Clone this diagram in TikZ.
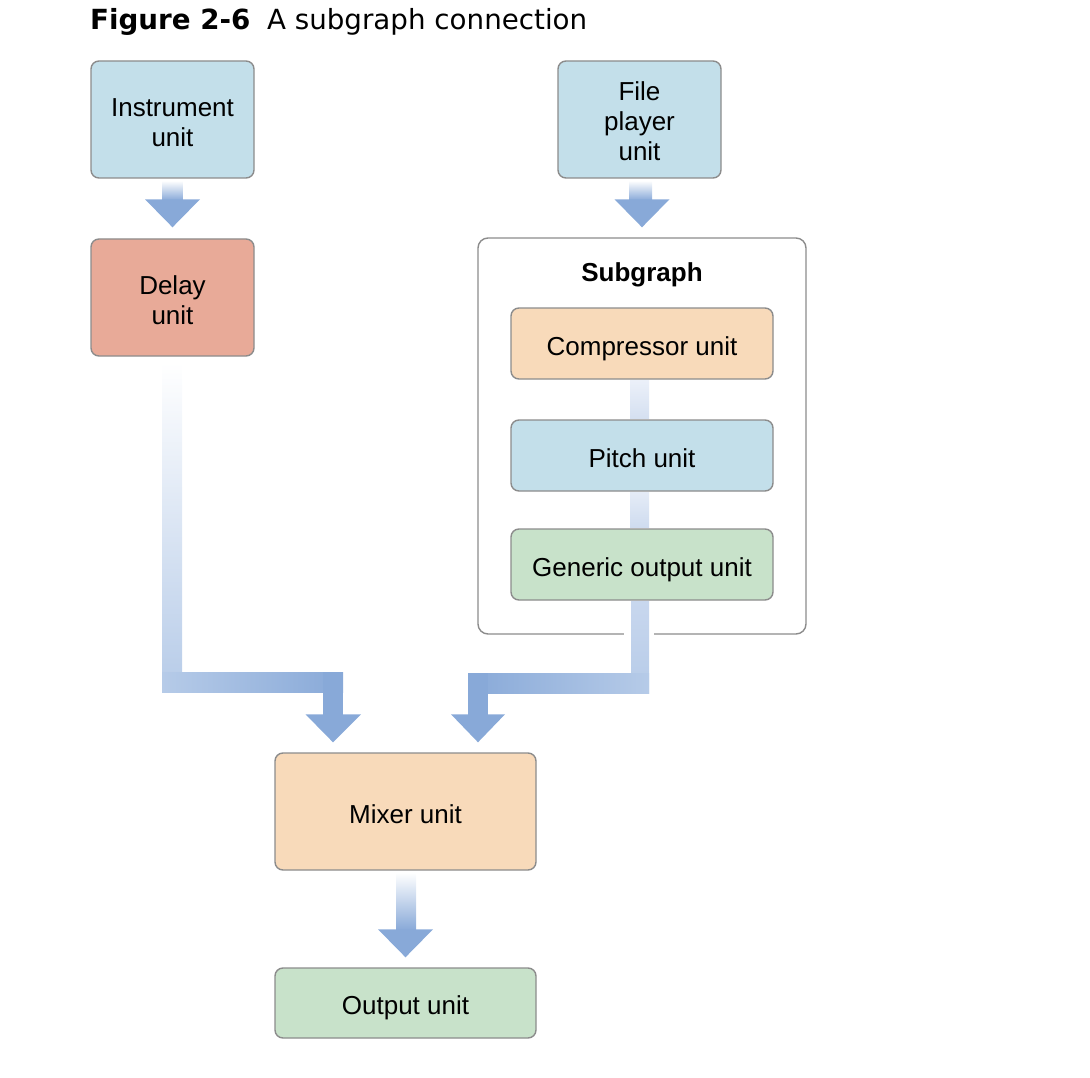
\documentclass[tikz,border=0pt]{standalone}
\usepackage{fontspec}
\setmainfont{Liberation Sans}
\newfontfamily\titlefont{DejaVu Sans}
\usetikzlibrary{calc}
\definecolor{ublue}{HTML}{C3DFEA}
\definecolor{ured}{HTML}{E8AA98}
\definecolor{uorange}{HTML}{F8DABA}
\definecolor{ugreen}{HTML}{C8E2CA}
\definecolor{uborder}{HTML}{8C8C8C}
\definecolor{arrowblue}{HTML}{88A9D8}
\definecolor{midblue}{HTML}{B6CBE8}
\definecolor{paleblue}{HTML}{C8D7EE}
\definecolor{faintA}{HTML}{EBF0F9}
\definecolor{faintB}{HTML}{D5E0F1}
\newsavebox\lblbox
\newcommand\lbl[2][5.5pt]{\sbox\lblbox{\begin{tabular}{@{}c@{}}#2\end{tabular}}%
  \raisebox{-#1}[\ht\lblbox][\dp\lblbox]{\usebox\lblbox}}
\tikzset{
  unitbox/.style={draw=uborder, line width=1.4pt, rounded corners=8pt,
    font=\fontsize{26}{30}\selectfont, inner sep=0pt},
  tallbox/.style={unitbox, minimum width=163pt, minimum height=117pt},
  widebox/.style={unitbox, minimum width=262pt, minimum height=71pt},
  mixbox/.style={unitbox, minimum width=261pt},
  groupbox/.style={draw=uborder, line width=1.4pt, rounded corners=10pt, fill=white},
  headfill/.style={fill=arrowblue},
}
\begin{document}
\begin{tikzpicture}[x=1pt, y=-1pt]
\useasboundingbox (0,0) rectangle (1090,1078);
% title
\node[anchor=west, inner sep=0pt] (title) at (90,22)
  {\resizebox{497pt}{!}{\titlefont\fontsize{26}{30}\selectfont\textbf{Figure 2-6}\hspace{0.6em}A subgraph connection}};
% subgraph container
\node[groupbox, minimum width=328pt, minimum height=396pt, inner sep=0pt] (sub) at (642,436) {};
\node[font=\bfseries\fontsize{26}{30}\selectfont, inner sep=0pt] (sublabel) at (642,272) {\lbl[3pt]{Subgraph}};
% units
\node[tallbox, fill=ublue] (inst) at (172.5,119.5) {\lbl[6pt]{Instrument\\unit}};
\node[tallbox, fill=ured] (delay) at (172.5,297.5) {\lbl[6pt]{Delay\\unit}};
\node[tallbox, fill=ublue] (file) at (639.5,119.5) {\lbl{File\\player\\unit}};
\node[widebox, fill=uorange] (comp) at (642,343.5) {\lbl{Compressor unit}};
\node[widebox, fill=ublue] (pitch) at (642,455.5) {\lbl{Pitch unit}};
\node[widebox, fill=ugreen] (gen) at (642,564.5) {\lbl{Generic output unit}};
\node[mixbox, fill=uorange, minimum height=117pt] (mix) at (405.5,811.5) {\lbl{Mixer unit}};
\node[mixbox, fill=ugreen, minimum height=70pt] (out) at (405.5,1003) {\lbl{Output unit}};
% ---- straight fat arrows ----
% instrument -> delay
\shade[top color=white, bottom color=arrowblue] ($(inst.south)+(-10,2)$) rectangle ($(delay.north)+(10,-38)$);
\fill[headfill] ($(delay.north)+(-27.5,-39)$) -- ($(delay.north)+(27.5,-39)$) -- ($(delay.north)+(0,-11)$) -- cycle;
% file -> subgraph
\shade[top color=white, bottom color=arrowblue] ($(file.south)+(-10,2)$) rectangle ($(sub.north)+(10,-37)$);
\fill[headfill] ($(sub.north)+(-27.5,-38)$) -- ($(sub.north)+(27.5,-38)$) -- ($(sub.north)+(0,-10)$) -- cycle;
% mixer -> output
\shade[top color=white, bottom color=arrowblue] ($(mix.south)+(-9.5,2)$) rectangle ($(out.north)+(10.5,-37)$);
\fill[headfill] ($(out.north)+(-27.5,-38)$) -- ($(out.north)+(27.5,-38)$) -- ($(out.north)+(0,-10)$) -- cycle;
% ---- inner faint connectors ----
\shade[top color=faintA, bottom color=faintB] ($(comp.south)+(-12,1)$) rectangle ($(pitch.north)+(7,-1)$);
\shade[top color=faintA!70!faintB, bottom color=faintB!80!midblue] ($(pitch.south)+(-12,1)$) rectangle ($(gen.north)+(7,-1)$);
% ---- left L-shaped arrow: delay -> mixer ----
\shade[top color=white, bottom color=midblue] ($(delay.south)+(-10.5,6)$) rectangle ($(mix.north)+(-223.5,-60)$);
\shade[left color=midblue, right color=arrowblue] ($(mix.north)+(-243.5,-80)$) rectangle ($(mix.north)+(-62.5,-60)$);
\fill[arrowblue] ($(mix.north)+(-82.5,-80)$) rectangle ($(mix.north)+(-62.5,-37)$);
\fill[headfill] ($(mix.north)+(-100,-38)$) -- ($(mix.north)+(-44.5,-38)$) -- ($(mix.north)+(-72.5,-10)$) -- cycle;
% ---- right L-shaped arrow: generic output -> mixer ----
\fill[white] ($(gen.south)+(-18,28)$) rectangle ($(gen.south)+(12,40)$);
\shade[top color=paleblue, bottom color=midblue] ($(gen.south)+(-11,1)$) rectangle ($(gen.south)+(7,93)$);
\shade[left color=arrowblue, right color=midblue] ($(mix.north)+(62.5,-79)$) rectangle ($(gen.south)+(7,93)$);
\fill[arrowblue] ($(mix.north)+(62.5,-79)$) rectangle ($(mix.north)+(82.5,-37)$);
\fill[headfill] ($(mix.north)+(45.5,-38)$) -- ($(mix.north)+(99.5,-38)$) -- ($(mix.north)+(72.5,-10)$) -- cycle;
\end{tikzpicture}
\end{document}
